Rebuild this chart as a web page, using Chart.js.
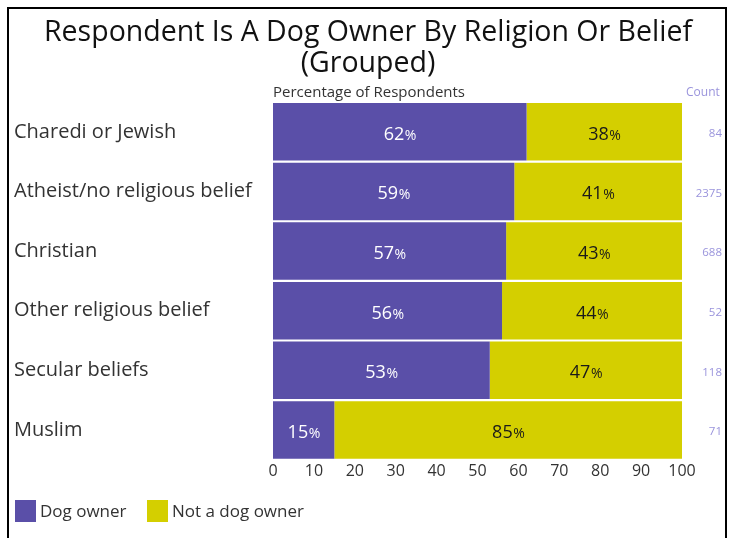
<!DOCTYPE html>
<html>
<head>
<meta charset="utf-8">
<script src="https://cdn.jsdelivr.net/npm/chart.js@4"></script>
<style>
  html, body { margin: 0; padding: 0; background: #fff; }
  #wrap { position: relative; width: 734px; height: 538px; overflow: hidden; }
  #frame { position: absolute; left: 7px; top: 7px; width: 716px; height: 560px;
           border: 2px solid #000; pointer-events: none; }
  #mask { position: absolute; left: 725px; top: 0; width: 9px; height: 538px; background: #fff; }
</style>
</head>
<body>
<div id="wrap">
  <canvas id="c" width="734" height="538"></canvas>
  <div id="mask"></div>
  <div id="frame"></div>
</div>
<script>
const categories = ["Charedi or Jewish", "Atheist/no religious belief", "Christian",
                    "Other religious belief", "Secular beliefs", "Muslim"];
const dogOwner = [62, 59, 57, 56, 53, 15];
const notDogOwner = [38, 41, 43, 44, 47, 85];
const counts = [84, 2375, 688, 52, 118, 71];
const seriesNames = ["Dog owner", "Not a dog owner"];
const xTicks = [0, 10, 20, 30, 40, 50, 60, 70, 80, 90, 100];

const FONT = "'Open Sans', 'DejaVu Sans', sans-serif";
const PURPLE = '#5a4fa8';
const YELLOW = '#d4cf00';

const overlay = {
  id: 'overlay',
  afterDatasetsDraw(chart) {
    const ctx = chart.ctx;
    const area = chart.chartArea;
    ctx.save();
    // Title
    ctx.fillStyle = '#111';
    ctx.font = "28.5px " + FONT;
    ctx.textAlign = 'center';
    ctx.textBaseline = 'alphabetic';
    ctx.fillText('Respondent Is A Dog Owner By Religion Or Belief', 368, 41);
    ctx.fillText('(Grouped)', 368, 72);
    // axis caption
    ctx.font = "15px " + FONT;
    ctx.fillStyle = '#333';
    ctx.textAlign = 'left';
    ctx.fillText('Percentage of Respondents', area.left, 97);
    // Count header
    ctx.fillStyle = '#9a94dc';
    ctx.font = "12px " + FONT;
    ctx.fillText('Count', 686, 96);
    // counts
    const yScale = chart.scales.y;
    ctx.font = "11.5px " + FONT;
    ctx.textAlign = 'right';
    ctx.textBaseline = 'middle';
    counts.forEach((v, i) => {
      ctx.fillText(String(v), 722, yScale.getPixelForValue(i) + 2);
    });
    // value labels
    chart.data.datasets.forEach((ds, di) => {
      const meta = chart.getDatasetMeta(di);
      meta.data.forEach((bar, i) => {
        const v = ds.data[i];
        const cx = (bar.x + bar.base) / 2;
        const cy = bar.y + 2;
        ctx.textBaseline = 'alphabetic';
        ctx.font = "18px " + FONT;
        const num = String(v);
        const wNum = ctx.measureText(num).width;
        ctx.font = "14px " + FONT;
        const wPct = ctx.measureText('%').width;
        const start = cx - (wNum + wPct) / 2;
        ctx.fillStyle = di === 0 ? '#ffffff' : '#1a1a1a';
        ctx.textAlign = 'left';
        ctx.font = "18px " + FONT;
        ctx.fillText(num, start, cy + 6);
        ctx.font = "14px " + FONT;
        ctx.fillText('%', start + wNum + 0.5, cy + 6);
      });
    });
    // legend
    const legendX = [15, 147];
    ctx.textBaseline = 'middle';
    ctx.textAlign = 'left';
    ctx.font = "17px " + FONT;
    chart.data.datasets.forEach((ds, di) => {
      ctx.fillStyle = ds.backgroundColor;
      ctx.fillRect(legendX[di], 500, 21, 22);
      ctx.fillStyle = '#333';
      ctx.fillText(seriesNames[di], legendX[di] + 25, 512);
    });
    ctx.restore();
  }
};

new Chart(document.getElementById('c'), {
  type: 'bar',
  data: {
    labels: categories,
    datasets: [
      { label: seriesNames[0], data: dogOwner, backgroundColor: PURPLE,
        barPercentage: 0.965, categoryPercentage: 1 },
      { label: seriesNames[1], data: notDogOwner, backgroundColor: YELLOW,
        barPercentage: 0.965, categoryPercentage: 1 }
    ]
  },
  options: {
    responsive: false,
    animation: false,
    indexAxis: 'y',
    layout: { padding: { left: 14, right: 52, top: 102, bottom: 55 } },
    scales: {
      x: {
        stacked: true, min: 0, max: 100,
        afterBuildTicks(axis) { axis.ticks = xTicks.map(v => ({ value: v })); },
        grid: { display: false, drawTicks: false },
        border: { display: false },
        ticks: { color: '#333', font: { family: FONT, size: 16 }, padding: 2, maxRotation: 0 }
      },
      y: {
        stacked: true,
        grid: { display: false, drawTicks: false },
        border: { display: false },
        afterFit(axis) { axis.width = 259; },
        ticks: { color: '#333', font: { family: FONT, size: 20 }, crossAlign: 'far', padding: 0 }
      }
    },
    plugins: {
      legend: { display: false },
      tooltip: { enabled: false },
      title: { display: false }
    }
  },
  plugins: [overlay]
});
</script>
</body>
</html>
